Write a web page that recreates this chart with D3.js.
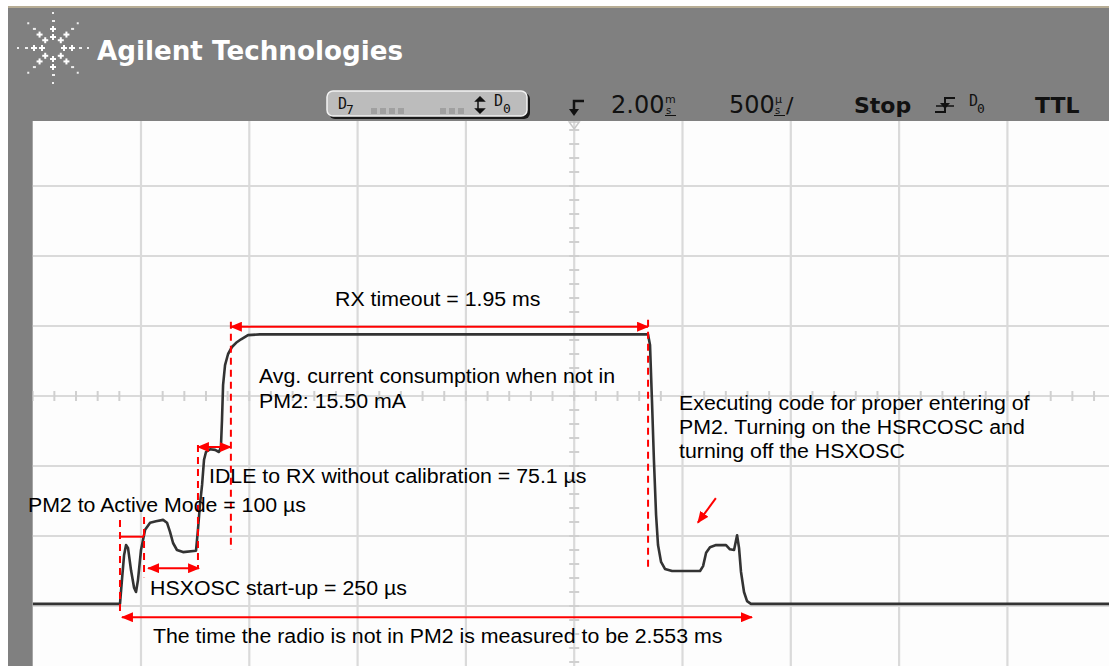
<!DOCTYPE html>
<html><head><meta charset="utf-8">
<script src="https://cdn.jsdelivr.net/npm/d3@7"></script>
<style>body{margin:0;background:#fff}svg{display:block}</style>
</head><body><svg id="c" width="1109" height="666"></svg>
<script>
// ---------- DATA ----------
// trace: time in µs from left screen edge (500 µs/div), level in divisions from centre
const timeUs = [0,403,412,422,431,440,454,468,477,486,500,519,542,569,602,620,634,648,666,694,754,763,772,782,791,800,819,842,860,869,874,879,888,902,920,939,962,994,1049,1696,2841,2850,2859,2868,2878,2887,2901,2919,2952,3081,3095,3109,3127,3155,3201,3219,3238,3252,3261,3270,3284,3298,3316,5100];
const level  = [-2.97,-2.97,-2.63,-2.27,-2.13,-2.17,-2.49,-2.74,-2.80,-2.63,-2.20,-1.91,-1.81,-1.79,-1.77,-1.81,-1.94,-2.10,-2.20,-2.23,-2.21,-1.91,-1.56,-1.27,-0.91,-0.80,-0.76,-0.77,-0.80,-0.73,-0.34,0.16,0.44,0.60,0.70,0.76,0.81,0.87,0.88,0.88,0.88,0.73,-0.06,-0.91,-1.70,-2.13,-2.37,-2.47,-2.50,-2.50,-2.43,-2.24,-2.16,-2.13,-2.13,-2.19,-2.20,-1.99,-2.17,-2.51,-2.80,-2.93,-2.97,-2.97];
const gridTimes  = d3.range(0, 5001, 500);
const gridLevels = d3.range(-4, 5, 1);
const minorTimes  = d3.range(0, 5001, 100);
const minorLevels = d3.range(-4, 4.01, 0.2);
// red dashed markers: time, top level, bottom level
const markerT   = [403, 514, 763, 915, 2841];
const markerTop = [-1.77, -1.73, -0.70, 1.06, 1.09];
const markerBot = [-3.09, -2.59, -2.46, -2.20, -2.44];
// measurement arrows: start, end, level, heads
const spanStart = [915, 763, 533, 412, 403];
const spanEnd   = [2841, 915, 768, 3321, 514];
const spanLevel = [0.99, -0.73, -2.46, -3.16, -2.01];
const spanHeads = ["both","both","both","both","none"];
// annotation texts
const noteText = ["RX timeout = 1.95 ms","Avg. current consumption when not in","PM2: 15.50 mA",
  "Executing code for proper entering of","PM2. Turning on the HSRCOSC and","turning off the HSXOSC",
  "IDLE to RX without calibration = 75.1 µs","PM2 to Active Mode = 100 µs","HSXOSC start-up = 250 µs",
  "The time the radio is not in PM2 is measured to be 2.553 ms"];
const noteT = [1396,1045,1045,2984,2984,2984,814,-22,542,555];
const noteV = [1.29,0.19,-0.17,-0.20,-0.54,-0.89,-1.24,-1.66,-2.84,-3.53];
// pointer arrow (time, level) from -> to
const pointerT = [3154, 3071];
const pointerV = [-1.46, -1.81];
const brand = "Agilent Technologies";
const timebase = "2.00", timeUnitTop = "m", timeUnitBot = "s";
const perDiv = "500", perDivTop = "µ", perDivBot = "s";
const runState = "Stop", trigSrc = "0", logic = "TTL";

// ---------- SCALES ----------
const svg = d3.select("#c");
const x = d3.scaleLinear().domain([0, 5000]).range([32.7, 1115.7]);
const y = d3.scaleLinear().domain([-4, 4]).range([676, 116]);
const plotTop = 121;

// page chrome
svg.append("rect").attr("x",0).attr("y",0).attr("width",1109).attr("height",666).attr("fill","#ffffff");
svg.append("rect").attr("x",8).attr("y",8).attr("width",1101).attr("height",658).attr("fill","#808080");
svg.append("line").attr("x1",8).attr("x2",1109).attr("y1",7).attr("y2",7).attr("stroke","#b7ad95").attr("stroke-width",2);
svg.append("rect").attr("x",x(0)).attr("y",plotTop).attr("width",1109-x(0)).attr("height",666-plotTop).attr("fill","#fdfdfd");

const plot = svg.append("g");
plot.append("clipPath").attr("id","pc").append("rect")
  .attr("x",x(0)).attr("y",plotTop).attr("width",1109-x(0)).attr("height",666-plotTop);
const g = plot.append("g").attr("clip-path","url(#pc)");

// grid
g.selectAll(".vg").data(gridTimes.slice(1)).join("line")
  .attr("x1",d=>x(d)).attr("x2",d=>x(d)).attr("y1",plotTop).attr("y2",666)
  .attr("stroke","#dadada").attr("stroke-width",2.2);
g.selectAll(".hg").data(gridLevels.slice(1)).join("line")
  .attr("x1",x(0)).attr("x2",1109).attr("y1",d=>y(d)).attr("y2",d=>y(d))
  .attr("stroke","#dadada").attr("stroke-width",2.2);
// centre axis minor ticks
g.selectAll(".mt").data(minorTimes).join("line")
  .attr("x1",d=>x(d)).attr("x2",d=>x(d)).attr("y1",y(0)-5).attr("y2",y(0)+5)
  .attr("stroke","#d0d0d0").attr("stroke-width",2);
g.selectAll(".ml").data(minorLevels).join("line")
  .attr("x1",x(2500)-5).attr("x2",x(2500)+5).attr("y1",d=>y(d)).attr("y2",d=>y(d))
  .attr("stroke","#d0d0d0").attr("stroke-width",2);
// trigger marker on top of centre axis
g.append("path").attr("d",`M${x(2500)-5},${plotTop+1} L${x(2500)+5},${plotTop+1} L${x(2500)},${plotTop+8} Z`)
  .attr("fill","none").attr("stroke","#c8c8c8").attr("stroke-width",1.5);

// trace
const pts = timeUs.map((t,i)=>[t,level[i]]);
g.append("path").datum(pts)
  .attr("d", d3.line().x(d=>x(d[0])).y(d=>y(d[1])))
  .attr("fill","none").attr("stroke","#333333").attr("stroke-width",2.6).attr("stroke-linejoin","round");

// arrow markers
const defs = svg.append("defs");
defs.append("marker").attr("id","ah").attr("viewBox","0 0 12 10").attr("refX",11).attr("refY",5)
  .attr("markerWidth",12).attr("markerHeight",10).attr("markerUnits","userSpaceOnUse")
  .attr("orient","auto-start-reverse")
  .append("path").attr("d","M0,0 L12,5 L0,10 Z").attr("fill","#ff0000");

// dashed markers
svg.selectAll(".dm").data(markerT).join("line")
  .attr("x1",d=>x(d)).attr("x2",d=>x(d))
  .attr("y1",(d,i)=>y(markerTop[i])).attr("y2",(d,i)=>y(markerBot[i]))
  .attr("stroke","#ff0000").attr("stroke-width",2).attr("stroke-dasharray","7,5");

// spans
svg.selectAll(".sp").data(spanStart).join("line")
  .attr("x1",d=>x(d)).attr("x2",(d,i)=>x(spanEnd[i]))
  .attr("y1",(d,i)=>y(spanLevel[i])).attr("y2",(d,i)=>y(spanLevel[i]))
  .attr("stroke","#ff0000").attr("stroke-width",2)
  .attr("marker-start",(d,i)=>spanHeads[i]==="both"?"url(#ah)":null)
  .attr("marker-end",(d,i)=>spanHeads[i]==="both"?"url(#ah)":null);

// pointer arrow
svg.append("line").attr("x1",x(pointerT[0])).attr("y1",y(pointerV[0]))
  .attr("x2",x(pointerT[1])).attr("y2",y(pointerV[1]))
  .attr("stroke","#ff0000").attr("stroke-width",2).attr("marker-end","url(#ah)");

// notes (slightly wide Arial-like lettering)
svg.selectAll(".nt").data(noteText).join("text")
  .attr("x",(d,i)=>x(noteT[i])).attr("y",(d,i)=>y(noteV[i]))
  .attr("font-family","'Liberation Sans', Arial, sans-serif").attr("font-size",20)
  .attr("fill","#000").text(d=>d)
  .each(function(){
    const w = this.getComputedTextLength();
    d3.select(this).attr("textLength", w*1.065).attr("lengthAdjust","spacingAndGlyphs");
  });

// ---------- HEADER ----------
// logo starburst
const logo = svg.append("g").attr("transform","translate(53,48)");
const angles = d3.range(0, 360, 45);
const rayR = [11, 19, 27, 35];
angles.forEach(a=>{
  const r = a*Math.PI/180;
  rayR.forEach((rr,k)=>{
    const cx = Math.cos(r)*rr, cy = Math.sin(r)*rr;
    if(k<2){
      logo.append("rect").attr("x",cx-1).attr("y",cy-3).attr("width",2).attr("height",6).attr("fill","#fff");
      logo.append("rect").attr("x",cx-3).attr("y",cy-1).attr("width",6).attr("height",2).attr("fill","#fff");
    } else {
      logo.append("rect").attr("x",cx-1).attr("y",cy-1).attr("width",k===2?3:2).attr("height",2).attr("fill","#eee");
    }
  });
});
svg.append("text").attr("x",97).attr("y",60).attr("font-family","'DejaVu Sans', sans-serif")
  .attr("font-weight","bold").attr("font-size",26).attr("fill","#ffffff")
  .attr("textLength",306).attr("lengthAdjust","spacingAndGlyphs").text(brand);

// status box
svg.append("rect").attr("x",329).attr("y",93).attr("width",201).attr("height",26).attr("rx",6).attr("fill","#1a1a1a");
svg.append("rect").attr("x",327).attr("y",91).attr("width",200).attr("height",25).attr("rx",6)
  .attr("fill","#bcbcbc").attr("stroke","#f2f2f2").attr("stroke-width",1.5);
const mono = "'DejaVu Sans Mono', monospace";
svg.append("text").attr("x",338).attr("y",109).attr("font-family",mono).attr("font-size",15).attr("fill","#111").text("D");
svg.append("text").attr("x",346).attr("y",114).attr("font-family",mono).attr("font-size",13).attr("fill","#111").text("7");
svg.selectAll(".dsh").data(d3.range(7)).join("rect")
  .attr("x",d=>d<4?371+d*9:404+d*9).attr("y",108).attr("width",6).attr("height",6).attr("fill","#a0a0a0");
svg.append("path").attr("d","M480,97 L484,101 L476,101 Z M478,101 V109 M480,113 L484,109 L476,109 Z")
  .attr("fill","#111").attr("stroke","#111").attr("stroke-width",1.5);
svg.append("text").attr("x",494).attr("y",106).attr("font-family",mono).attr("font-size",15).attr("fill","#111").text("D");
svg.append("text").attr("x",503).attr("y",113).attr("font-family",mono).attr("font-size",13).attr("fill","#111").text("0");

// trigger position icon
svg.append("path").attr("d","M584,101 H574 V110").attr("fill","none").attr("stroke","#111").attr("stroke-width",2.5);
svg.append("path").attr("d","M569,109 L579,109 L574,116 Z").attr("fill","#111");

const sans = "'DejaVu Sans', sans-serif";
svg.append("text").attr("x",611).attr("y",113).attr("font-family",sans).attr("font-size",24).attr("fill","#111").text(timebase);
svg.append("text").attr("x",665).attr("y",103).attr("font-family",sans).attr("font-size",11).attr("fill","#111").text(timeUnitTop);
svg.append("text").attr("x",666).attr("y",114).attr("font-family",sans).attr("font-size",10).attr("fill","#111").text(timeUnitBot);
svg.append("line").attr("x1",665).attr("x2",676).attr("y1",115.5).attr("y2",115.5).attr("stroke","#111").attr("stroke-width",1);

svg.append("text").attr("x",729).attr("y",113).attr("font-family",sans).attr("font-size",24).attr("fill","#111").text(perDiv);
svg.append("text").attr("x",775).attr("y",103).attr("font-family",sans).attr("font-size",11).attr("fill","#111").text(perDivTop);
svg.append("text").attr("x",775).attr("y",114).attr("font-family",sans).attr("font-size",10).attr("fill","#111").text(perDivBot);
svg.append("line").attr("x1",774).attr("x2",785).attr("y1",115.5).attr("y2",115.5).attr("stroke","#111").attr("stroke-width",1);
svg.append("text").attr("x",786).attr("y",113).attr("font-family",sans).attr("font-size",22).attr("fill","#111").text("/");

svg.append("text").attr("x",854).attr("y",113).attr("font-family",sans).attr("font-weight","bold").attr("font-size",22).attr("fill","#111").text(runState);
// falling edge icon
svg.append("path").attr("d","M935,112 H945 V98 H955").attr("fill","none").attr("stroke","#111").attr("stroke-width",2);
svg.append("path").attr("d","M940,103 L950,103 L945,109 Z").attr("fill","#111");
svg.append("line").attr("x1",936).attr("x2",954).attr("y1",106).attr("y2",106).attr("stroke","#111").attr("stroke-width",1.5);
svg.append("text").attr("x",969).attr("y",106).attr("font-family",mono).attr("font-size",15).attr("fill","#111").text("D");
svg.append("text").attr("x",977).attr("y",113).attr("font-family",mono).attr("font-size",13).attr("fill","#111").text(trigSrc);
svg.append("text").attr("x",1035).attr("y",113).attr("font-family",sans).attr("font-weight","bold").attr("font-size",22).attr("fill","#111").text(logic);
</script></body></html>
